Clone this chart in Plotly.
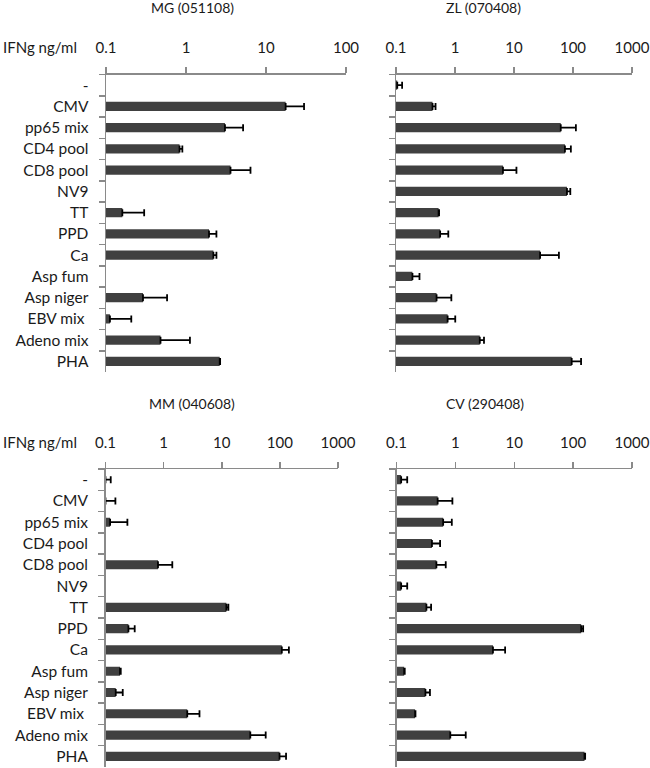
import plotly.graph_objects as go

categories = ["-", "CMV", "pp65 mix", "CD4 pool", "CD8 pool", "NV9", "TT", "PPD",
              "Ca", "Asp fum", "Asp niger", "EBV mix ", "Adeno mix", "PHA"]

tick_vals = [0.1, 1, 10, 100, 1000]
tick_text = ["0.1", "1", "10", "100", "1000"]

titles = ["MG (051108)", "ZL (070408)", "MM (040608)", "CV (290408)"]
axis_label = "IFNg ng/ml"

mg_vals = [None, 17.6, 3.07, 0.83, 3.6, None, 0.16, 1.94, 2.2, None, 0.29, 0.112, 0.48, 2.64]
mg_err = [0, 12.3, 2.1, 0.07, 2.8, 0, 0.14, 0.46, 0.2, 0, 0.29, 0.095, 0.64, 0.03]

zl_vals = [0.105, 0.416, 62, 73, 6.5, 79, 0.527, 0.56, 27.7, 0.19, 0.487, 0.75, 2.63, 95]
zl_err = [0.022, 0.052, 50, 19, 4.5, 11, 0.01, 0.21, 30, 0.06, 0.38, 0.26, 0.47, 42]

mm_vals = [0.1, 0.1, 0.12, None, 0.8, None, 12.0, 0.248, 108, 0.178, 0.15, 2.55, 31, 98.7]
mm_err = [0.023, 0.048, 0.118, 0, 0.61, 0, 1.0, 0.07, 35, 0.005, 0.048, 1.59, 26, 29]

cv_vals = [0.12, 0.50, 0.62, 0.40, 0.476, 0.12, 0.322, 137, 4.35, 0.135, 0.31, 0.207, 0.82, 156]
cv_err = [0.032, 0.39, 0.25, 0.15, 0.21, 0.032, 0.065, 11, 2.65, 0.003, 0.06, 0.003, 0.68, 4]

W, H = 650, 768
FONT = "Lato"
AXIS_COLOR = "#8a8a8a"
BAR_COLOR = "#404040"

# panel geometry in pixels: (x0, x1, y_top, y_bottom, log range, show category labels)
panels = [
    (106, 346, 74.5, 372, [-1, 2], True),
    (396, 632, 74.5, 372, [-1, 3], False),
    (105.5, 338, 469, 767, [-1, 3], True),
    (396.5, 632, 469, 767, [-1, 3], False),
]
series = [(mg_vals, mg_err), (zl_vals, zl_err), (mm_vals, mm_err), (cv_vals, cv_err)]

fig = go.Figure()
layout = dict(
    width=W, height=H,
    margin=dict(l=0, r=0, t=0, b=0, autoexpand=False),
    paper_bgcolor="white", plot_bgcolor="white",
    showlegend=False,
    bargap=0.57,
    font=dict(family=FONT, color="#1a1a1a"),
)

for i, ((x0, x1, yt, yb, rng, show_labels), (vals, errs)) in enumerate(zip(panels, series)):
    n = i + 1
    xa = "x" if n == 1 else f"x{n}"
    ya = "y" if n == 1 else f"y{n}"
    fig.add_trace(go.Bar(
        y=categories, x=vals, orientation="h",
        xaxis=xa, yaxis=ya,
        marker=dict(color=BAR_COLOR, line=dict(width=0)),
        error_x=dict(type="data", array=errs, arrayminus=[0] * len(errs),
                     symmetric=False, color="black", thickness=1.8, width=3.5),
    ))
    xkey = "xaxis" if n == 1 else f"xaxis{n}"
    ykey = "yaxis" if n == 1 else f"yaxis{n}"
    layout[xkey] = dict(
        type="log", range=rng, domain=[x0 / W, x1 / W],
        anchor=ya, side="top", automargin=False,
        showline=True, linecolor=AXIS_COLOR, linewidth=1.5,
        showgrid=False, zeroline=False,
        ticks="outside", ticklen=6, tickcolor=AXIS_COLOR, tickwidth=1.5,
        tickvals=tick_vals, ticktext=tick_text,
        tickfont=dict(family=FONT, size=15, color="#1a1a1a"),
        ticklabelstandoff=8,
    )
    layout[ykey] = dict(
        type="category", categoryorder="array", categoryarray=categories,
        autorange="reversed",
        domain=[1 - yb / H, 1 - yt / H],
        anchor=xa, automargin=False,
        showline=True, linecolor=AXIS_COLOR, linewidth=1.5,
        showgrid=False, zeroline=False,
        ticks="outside", ticklen=6, tickcolor=AXIS_COLOR, tickwidth=1.5,
        tickson="boundaries",
        showticklabels=show_labels,
        tickfont=dict(family=FONT, size=15.5, color="#1a1a1a"),
        ticklabelstandoff=13,
    )

annotations = []
title_pos = [(192, 8), (484, 8), (192, 403), (485, 403)]
for t, (tx, ty) in zip(titles, title_pos):
    annotations.append(dict(
        text=t, x=tx / W, y=1 - ty / H, xref="paper", yref="paper",
        xanchor="center", yanchor="middle", showarrow=False,
        font=dict(family=FONT, size=14, color="#1a1a1a"),
    ))
for ly in (47, 442):
    annotations.append(dict(
        text=axis_label, x=1 / W, y=1 - ly / H, xref="paper", yref="paper",
        xanchor="left", yanchor="middle", showarrow=False,
        font=dict(family=FONT, size=15, color="#1a1a1a"),
    ))
layout["annotations"] = annotations

fig.update_layout(**layout)
fig.write_html(
    "out.html",
    config={"displayModeBar": False, "staticPlot": True},
    post_script="document.body.style.margin='0';document.body.style.overflow='hidden';",
)
